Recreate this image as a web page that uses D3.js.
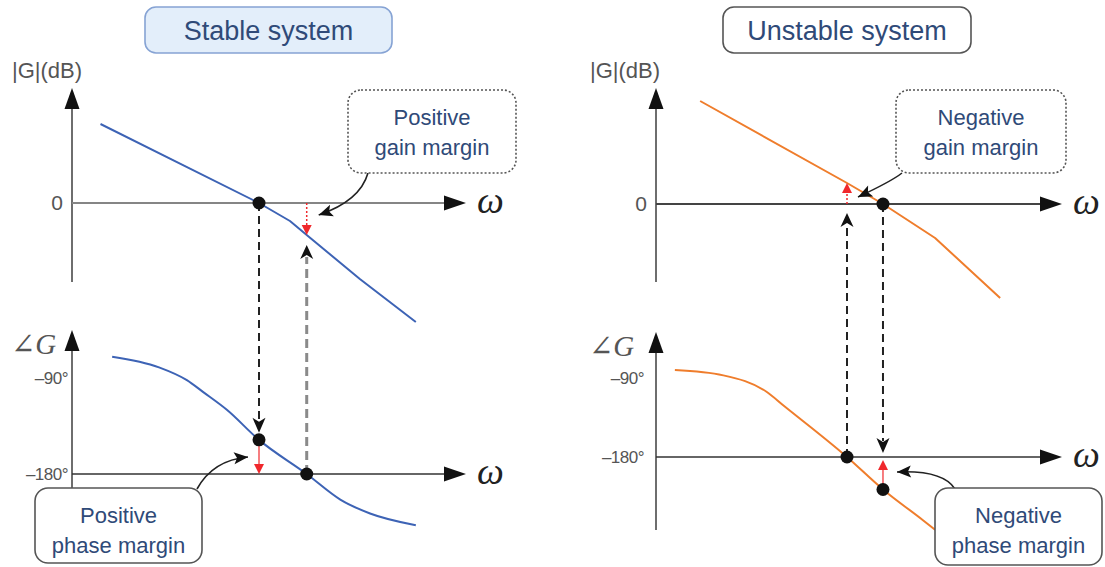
<!DOCTYPE html>
<html>
<head>
<meta charset="utf-8">
<script src="https://cdn.jsdelivr.net/npm/d3@7"></script>
<style>
  body { margin: 0; background: #fff; }
  svg { display: block; }
</style>
</head>
<body>
<svg id="chart" width="1105" height="567"></svg>
<script>
// ---- Bode data: frequency (rad/s), magnitude (dB), phase (deg) ----
const stableMagW    = [0.026, 1, 2.04, 3, 10.2, 37];
const stableMagDb   = [39.5, 0, -9, -16, -38, -59.5];
const stablePhW     = [0.034, 0.10, 0.19, 0.275, 0.48, 1, 3, 6.5, 12.9, 37];
const stablePhDeg   = [-70, -80, -92, -103, -120, -148, -180, -204, -217, -228];

const unstableMagW  = [0.034, 1, 2.29, 7.6, 34];
const unstableMagDb = [51.5, 10.5, 0, -17, -47];
const unstablePhW   = [0.019, 0.058, 0.158, 0.23, 1, 2.29, 5.75, 7.6];
const unstablePhDeg = [-81, -87, -106, -121, -180, -217, -252, -263];

// crossover frequencies: [gain crossover, phase crossover]
const stableCross   = [1, 3];
const unstableCross = [2.29, 1];

// axis tick labels
const magTickValues   = [0];
const magTickLabels   = ["0"];
const phaseTickValues = [-90, -180];
const phaseTickLabels = ["\u201390\u00b0", "\u2013180\u00b0"];

const titles      = ["Stable system", "Unstable system"];
const gainNotes   = [["Positive", "gain margin"], ["Negative", "gain margin"]];
const phaseNotes  = [["Positive", "phase margin"], ["Negative", "phase margin"]];

const svg = d3.select("#chart");
const SANS = "'Liberation Sans', Arial, Helvetica, sans-serif";
const SERIF = "'Liberation Serif', 'Times New Roman', 'DejaVu Serif', serif";
const TEXT_BLUE = "#2f4a78";
const AXIS_GRAY = "#6e6e6e";

function head(g, x, y, ang, len, half, color, notch = 0) {
  const c = Math.cos(ang), s = Math.sin(ang);
  const bx = x - c * len, by = y - s * len;
  const p1 = [bx - s * half, by + c * half];
  const p2 = [bx + s * half, by - c * half];
  const n = [x - c * (len - notch), y - s * (len - notch)];
  g.append("path")
    .attr("d", `M${x},${y}L${p1[0]},${p1[1]}L${n[0]},${n[1]}L${p2[0]},${p2[1]}Z`)
    .attr("fill", color);
}

function interpAt(ws, vs, w) {
  const lw = Math.log10(w);
  for (let i = 0; i < ws.length - 1; i++) {
    const a = Math.log10(ws[i]), b = Math.log10(ws[i + 1]);
    if (lw >= a && lw <= b) return vs[i] + (vs[i + 1] - vs[i]) * (lw - a) / (b - a);
  }
  return vs[vs.length - 1];
}

function panel(p) {
  const g = svg.append("g");
  const x = d3.scaleLog().domain([0.01, 100]).range(p.xRange);
  const yM = d3.scaleLinear().domain([-40, 60]).range([p.zeroY + 80, p.zeroY - 120]);
  const yP = d3.scaleLinear().domain([-90, -180]).range([p.p90Y, p.p180Y]);
  const ax = p.axisX;

  // ---- axes ----
  // magnitude
  g.append("line").attr("x1", ax).attr("x2", ax).attr("y1", p.magTop + 14).attr("y2", p.magBottom)
    .attr("stroke", AXIS_GRAY).attr("stroke-width", 2);
  head(g, ax, p.magTop, -Math.PI / 2, 21, 7.5, "#111");
  g.append("line").attr("x1", ax).attr("x2", p.axisEnd - 16).attr("y1", yM(0)).attr("y2", yM(0))
    .attr("stroke", p.zeroColor).attr("stroke-width", 2);
  head(g, p.axisEnd, yM(0), 0, 22, 7.5, "#111");
  // phase
  g.append("line").attr("x1", ax).attr("x2", ax).attr("y1", p.phTop + 14).attr("y2", p.phBottom)
    .attr("stroke", AXIS_GRAY).attr("stroke-width", 2);
  head(g, ax, p.phTop, -Math.PI / 2, 21, 7.5, "#111");
  g.append("line").attr("x1", ax).attr("x2", p.axisEnd - 16).attr("y1", yP(-180)).attr("y2", yP(-180))
    .attr("stroke", "#333").attr("stroke-width", 1.6);
  head(g, p.axisEnd, yP(-180), 0, 22, 7.5, "#111");

  // axis labels
  g.append("text").attr("x", p.labelX).attr("y", 78).text("|G|(dB)")
    .attr("font-family", SANS).attr("font-size", 22).attr("fill", "#555");
  magTickValues.forEach((v, i) => {
    g.append("text").attr("x", ax - 9).attr("y", yM(v) + 7).attr("text-anchor", "end")
      .text(magTickLabels[i]).attr("font-family", SANS).attr("font-size", 21).attr("fill", "#555");
  });
  g.append("text").attr("x", p.labelX - 1).attr("y", p.phTop + 24)
    .attr("font-family", SERIF).attr("font-style", "italic").attr("font-size", 29).attr("fill", "#555")
    .text("\u2220G");
  phaseTickValues.forEach((v, i) => {
    g.append("text").attr("x", ax - p.tickGap).attr("y", yP(v) + 6).attr("text-anchor", "end")
      .text(phaseTickLabels[i]).attr("font-family", SANS).attr("font-size", 17)
      .attr("fill", "#555").attr("letter-spacing", -0.5);
  });
  [yM(0), yP(-180)].forEach(yy => {
    g.append("text").attr("x", p.axisEnd + 11).attr("y", yy + 10)
      .attr("font-family", SERIF).attr("font-style", "italic").attr("font-size", 38).attr("fill", "#222")
      .text("\u03c9");
  });

  // ---- response curves ----
  const magLine = d3.line();
  const phLine = d3.line().curve(d3.curveMonotoneX);
  g.append("path")
    .attr("d", magLine(p.magW.map((w, i) => [x(w), yM(p.magDb[i])])))
    .attr("fill", "none").attr("stroke", p.color).attr("stroke-width", 2)
    .attr("stroke-linejoin", "round");
  g.append("path")
    .attr("d", phLine(p.phW.map((w, i) => [x(w), yP(p.phDeg[i])])))
    .attr("fill", "none").attr("stroke", p.color).attr("stroke-width", 2);

  // ---- margin construction ----
  const [wgc, wpc] = p.cross;
  const xg = x(wgc), xp = x(wpc);
  const phAtGc = interpAt(p.phW, p.phDeg, wgc);
  const magAtPc = interpAt(p.magW, p.magDb, wpc);

  // dashed drop from gain crossover to the phase curve
  const downTip = p.stable ? yP(phAtGc) - 7 : yP(-180) - 4;
  g.append("line").attr("x1", xg).attr("x2", xg).attr("y1", yM(0)).attr("y2", downTip - 12)
    .attr("stroke", "#222").attr("stroke-width", 2).attr("stroke-dasharray", "8,5");
  head(g, xg, downTip, Math.PI / 2, 15, 6.5, "#111", 4);

  // dashed rise from phase crossover to the magnitude axis
  const upTip = p.stable ? yM(magAtPc) + 10 : yM(0) + 9;
  g.append("line").attr("x1", xp).attr("x2", xp).attr("y1", yP(-180)).attr("y2", upTip + 12)
    .attr("stroke", p.stable ? "#8a8a8a" : "#222").attr("stroke-width", p.stable ? 3 : 2)
    .attr("stroke-dasharray", p.stable ? "9,5" : "8,5");
  head(g, xp, upTip, -Math.PI / 2, 14, 6.5, "#111", 4);

  // gain margin (red, dotted)
  const RED = "#f0282c";
  {
    const y0 = yM(0), y1 = yM(magAtPc);
    const dir = y1 > y0 ? 1 : -1;
    g.append("line").attr("x1", xp).attr("x2", xp).attr("y1", y0).attr("y2", y1 - dir * 9)
      .attr("stroke", RED).attr("stroke-width", 1.5).attr("stroke-dasharray", "2,2");
    head(g, xp, y1, dir > 0 ? Math.PI / 2 : -Math.PI / 2, 10, 5, RED);
  }
  // phase margin (red, solid)
  {
    const y0 = yP(phAtGc), y1 = yP(-180);
    const dir = y1 > y0 ? 1 : -1;
    const tip = y1 + (p.stable ? 0 : 3);
    g.append("line").attr("x1", xg).attr("x2", xg).attr("y1", y0).attr("y2", tip - dir * 9)
      .attr("stroke", RED).attr("stroke-width", 1.2);
    head(g, xg, tip, dir > 0 ? Math.PI / 2 : -Math.PI / 2, 10, 5, RED);
  }

  // crossover dots
  [[xg, yM(0)], [xg, yP(phAtGc)], [xp, yP(-180)]].forEach(([cx, cy]) => {
    g.append("circle").attr("cx", cx).attr("cy", cy).attr("r", 6.5).attr("fill", "#111");
  });

  // ---- callouts ----
  function callout(box, lines, dotted, pointer) {
    const [s, c, e] = pointer;
    g.append("path").attr("d", `M${s[0]},${s[1]}Q${c[0]},${c[1]} ${e[0]},${e[1]}`)
      .attr("fill", "none").attr("stroke", "#222").attr("stroke-width", 1.6);
    head(g, e[0], e[1], Math.atan2(e[1] - c[1], e[0] - c[0]), 14, 6, "#111", 3);
    g.append("rect").attr("x", box[0]).attr("y", box[1]).attr("width", box[2]).attr("height", box[3])
      .attr("rx", 13).attr("fill", "#fff").attr("stroke", "#555").attr("stroke-width", 1.6)
      .attr("stroke-dasharray", dotted ? "2,2" : null);
    lines.forEach((t, i) => {
      g.append("text").attr("x", box[0] + box[2] / 2).attr("y", box[1] + 35 + i * 30)
        .attr("text-anchor", "middle").attr("font-family", SANS).attr("font-size", 22)
        .attr("fill", TEXT_BLUE).text(t);
    });
  }
  const gTip = [xp + (p.stable ? 12 : 11), yM(magAtPc) + (p.stable ? -20 : 14)];
  callout(p.gainBox, p.gainNote, true,
    [[p.gainBox[0] + p.gPtr[0], p.gainBox[1] + p.gainBox[3]], [p.gainBox[0] + p.gPtr[1], p.gainBox[1] + p.gainBox[3] + p.gPtr[2]], gTip]);
  const pTip = p.stable ? [xg - 11, yP(-180) - 17] : [xg + 14, yP(-180) + 15];
  callout(p.phaseBox, p.phaseNote, false,
    [[p.phaseBox[0] + p.pPtr[0], p.phaseBox[1] + 1], [p.phaseBox[0] + p.pPtr[1], p.phaseBox[1] + p.pPtr[2]], pTip]);

  // ---- title ----
  const tb = p.titleBox;
  g.append("rect").attr("x", tb[0]).attr("y", tb[1]).attr("width", tb[2]).attr("height", tb[3])
    .attr("rx", 11).attr("fill", p.titleFill).attr("stroke", p.titleStroke).attr("stroke-width", 1.6);
  g.append("text").attr("x", tb[0] + tb[2] / 2).attr("y", tb[1] + tb[3] / 2 + 10)
    .attr("text-anchor", "middle").attr("font-family", SANS).attr("font-size", 27)
    .attr("fill", TEXT_BLUE).text(p.title);
}

panel({
  stable: true,
  xRange: [59, 459], axisX: 72, axisEnd: 466,
  zeroY: 203, p90Y: 378, p180Y: 474,
  magTop: 88, magBottom: 282, phTop: 330, phBottom: 490,
  zeroColor: "#858585", labelX: 12, tickGap: 4,
  color: "#3d63b5",
  magW: stableMagW, magDb: stableMagDb, phW: stablePhW, phDeg: stablePhDeg,
  cross: stableCross,
  title: titles[0], titleBox: [145, 7, 247, 46], titleFill: "#e3eefa", titleStroke: "#86a3d4",
  gainBox: [348, 90, 168, 83], gainNote: gainNotes[0], gPtr: [20, 12, 28],
  phaseBox: [35, 488, 167, 75], phaseNote: phaseNotes[0], pPtr: [162, 178, -28]
});

panel({
  stable: false,
  xRange: [647, 1047], axisX: 656, axisEnd: 1062,
  zeroY: 204, p90Y: 378, p180Y: 457,
  magTop: 88, magBottom: 282, phTop: 332, phBottom: 530,
  zeroColor: "#444", labelX: 590, tickGap: 12,
  color: "#ef7d2c",
  magW: unstableMagW, magDb: unstableMagDb, phW: unstablePhW, phDeg: unstablePhDeg,
  cross: unstableCross,
  title: titles[1], titleBox: [723, 7, 248, 46], titleFill: "#ffffff", titleStroke: "#555",
  gainBox: [896, 90, 170, 83], gainNote: gainNotes[1], gPtr: [6, -4, 8],
  phaseBox: [935, 488, 167, 77], phaseNote: phaseNotes[1], pPtr: [20, 8, -18]
});
</script>
</body>
</html>
